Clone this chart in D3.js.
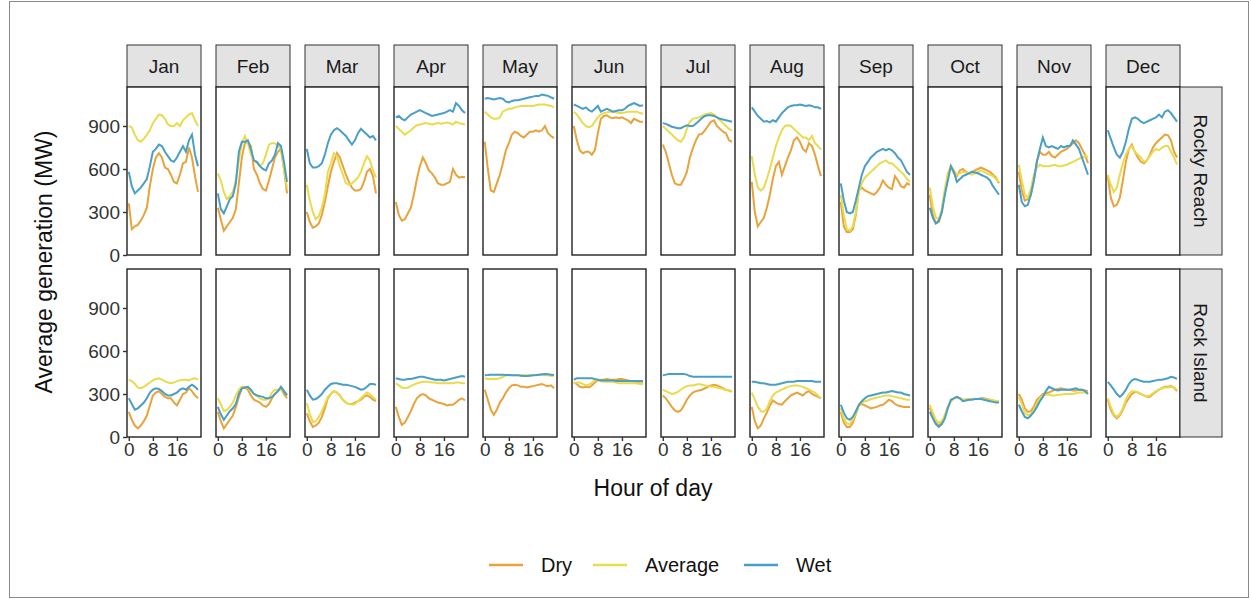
<!DOCTYPE html>
<html>
<head>
<meta charset="utf-8">
<script src="https://cdn.jsdelivr.net/npm/d3@7"></script>
<style>
  body { margin: 0; background: #fff; font-family: Arial, "Liberation Sans", sans-serif; }
</style>
</head>
<body>
<svg id="chart" width="1251" height="599"></svg>
<script>
// data
const months = ["Jan","Feb","Mar","Apr","May","Jun","Jul","Aug","Sep","Oct","Nov","Dec"];
const plants = ["Rocky Reach", "Rock Island"];
const scenarios = ["Dry", "Average", "Wet"];
const hours = d3.range(24);
const yTicks = [0, 300, 600, 900];
const xTicks = [0, 8, 16];

// Rocky Reach, one array of 24 hourly values per month
const rockyReachDry = [
  [360,180,200,210,240,280,330,480,600,680,710,680,610,600,560,510,500,560,640,650,750,680,550,440],
  [330,250,170,200,230,260,320,500,680,780,790,760,600,560,500,460,450,520,600,680,720,740,600,430],
  [300,230,190,200,220,280,370,480,580,650,710,680,620,560,510,470,450,450,460,510,580,600,550,430],
  [370,280,240,250,290,330,420,530,620,680,640,590,570,540,500,490,490,500,510,600,560,540,545,545],
  [790,600,450,440,500,560,640,730,780,840,860,850,830,820,840,860,860,870,860,870,900,850,830,815],
  [900,800,730,710,720,720,700,730,850,950,970,975,960,955,960,955,960,950,940,920,950,940,930,930],
  [770,720,640,560,500,490,490,530,580,680,745,800,840,845,870,900,930,940,900,880,860,850,800,790],
  [510,300,200,230,260,330,420,530,620,650,560,620,680,730,800,820,790,740,720,780,760,700,620,550],
  [370,200,160,160,180,280,450,470,450,440,430,420,440,470,520,490,470,460,550,520,480,470,500,490],
  [420,280,220,230,300,440,560,620,570,550,590,600,580,570,580,590,600,610,600,590,580,560,540,500],
  [580,450,380,390,420,520,650,720,700,700,720,690,680,700,720,730,740,760,780,800,780,740,700,640],
  [550,400,340,350,400,520,650,740,770,720,680,650,640,660,700,750,780,800,820,840,835,800,720,680]
];
const rockyReachAverage = [
  [900,890,840,800,790,810,840,870,920,950,980,975,950,910,900,900,920,900,940,960,980,990,940,900],
  [570,520,440,390,410,440,520,660,780,830,780,700,660,640,620,640,700,770,780,780,760,740,600,470],
  [490,380,300,250,270,330,420,580,640,710,690,620,560,500,490,500,520,540,580,640,690,660,590,540],
  [900,880,860,840,855,870,890,905,910,915,920,915,910,915,920,915,920,925,920,910,930,920,915,910],
  [1000,980,960,950,950,960,1000,1010,1020,1020,1030,1035,1040,1040,1040,1040,1040,1045,1050,1050,1050,1045,1040,1030],
  [1000,980,950,920,900,890,900,930,960,980,990,995,1000,1000,995,990,990,995,1000,1000,1000,1000,990,985],
  [900,880,860,840,820,800,790,820,880,930,950,955,960,970,980,985,990,980,960,940,920,900,880,870],
  [690,560,470,450,470,530,600,680,760,820,870,900,905,900,880,860,840,820,820,800,830,780,760,735],
  [420,280,180,170,200,300,440,500,540,560,580,600,620,640,650,660,640,640,620,600,580,560,530,510],
  [470,340,260,250,320,460,570,620,590,560,570,580,575,570,560,570,580,590,580,570,560,550,530,510],
  [630,520,420,400,460,560,610,630,620,620,620,625,630,620,620,625,630,640,650,660,670,680,690,685],
  [560,490,440,470,560,640,700,740,760,720,700,680,650,660,690,720,740,730,750,760,760,720,680,630]
];
const rockyReachWet = [
  [580,480,430,450,470,500,530,620,720,740,770,760,720,690,660,650,680,720,760,720,800,840,700,620],
  [430,320,290,340,390,410,500,720,790,790,800,740,660,650,620,600,590,640,660,700,780,760,650,510],
  [740,640,610,610,620,640,700,780,840,870,885,870,850,830,800,770,800,850,880,860,840,820,830,800],
  [960,970,950,940,960,980,990,1000,1010,1000,990,980,970,975,980,985,990,1000,1010,1000,1060,1040,1010,990],
  [1090,1095,1090,1085,1090,1095,1090,1070,1065,1075,1080,1080,1085,1090,1095,1100,1105,1110,1110,1120,1115,1110,1100,1090],
  [1050,1040,1030,1020,1030,1010,1000,1020,1040,1000,1010,1020,1010,1000,1005,1010,1010,1020,1040,1050,1060,1050,1040,1045],
  [920,915,905,895,890,885,885,895,905,900,900,915,935,955,970,975,975,970,960,950,945,940,935,930],
  [1030,1000,970,950,930,935,925,940,930,960,990,1010,1030,1040,1045,1045,1050,1045,1040,1045,1040,1030,1030,1020],
  [500,380,300,290,300,380,470,560,620,650,680,700,720,730,740,730,740,730,710,680,660,620,580,560],
  [330,260,220,240,300,420,520,620,580,510,530,550,560,570,580,575,570,560,550,540,520,480,450,420],
  [490,370,340,350,420,520,650,740,820,760,750,760,750,740,760,750,760,760,800,770,740,680,620,560],
  [870,810,750,700,680,720,790,880,950,960,950,930,920,930,940,950,960,980,960,1000,1010,990,960,930]
];

// Rock Island
const rockIslandDry = [
  [175,120,80,60,80,110,150,220,290,310,320,300,280,270,270,240,220,260,300,310,340,320,290,270],
  [175,110,60,90,120,150,210,280,340,345,330,290,260,250,240,220,210,230,270,300,320,340,300,270],
  [165,110,70,80,100,140,200,270,300,320,310,290,260,240,230,230,240,250,260,280,290,280,260,250],
  [210,140,85,100,140,180,230,270,290,300,290,270,260,250,240,235,230,220,225,225,240,260,270,255],
  [330,260,190,155,190,240,270,310,340,360,365,360,350,350,345,350,355,360,365,370,360,355,360,340],
  [380,370,350,345,350,345,360,380,395,400,400,405,400,400,400,405,405,400,395,390,385,380,375,375],
  [290,270,240,210,185,175,185,220,260,290,310,320,325,330,340,350,360,365,360,350,340,330,325,315],
  [210,110,60,80,130,170,220,255,240,230,225,250,270,290,300,310,300,290,310,320,300,290,280,270],
  [175,100,70,70,100,160,220,230,220,210,200,205,210,220,225,240,260,250,230,220,215,210,210,210],
  [205,150,100,80,100,150,210,250,270,280,270,260,260,265,265,265,265,270,270,265,260,255,250,245],
  [300,260,200,175,180,210,260,280,300,305,310,320,330,335,340,335,330,330,325,325,330,330,325,320],
  [260,190,150,130,150,190,240,270,300,315,310,300,290,280,280,300,315,330,340,350,350,355,345,320]
];
const rockIslandAverage = [
  [400,390,370,345,340,350,365,380,395,405,410,400,390,380,375,380,390,395,400,400,395,405,410,400],
  [270,230,180,190,210,240,290,330,350,350,345,320,300,290,270,260,260,270,310,330,330,330,320,300],
  [235,160,105,110,140,180,230,280,300,320,310,290,260,240,230,225,230,250,270,290,310,300,280,260],
  [375,360,345,340,345,355,365,375,380,385,385,385,380,380,375,375,375,375,375,375,380,380,375,375],
  [410,405,405,405,405,410,420,430,430,430,430,430,430,430,430,430,430,430,432,432,430,430,428,425],
  [375,380,380,370,360,365,380,395,395,390,385,385,385,385,380,375,375,375,375,375,375,375,370,370],
  [330,320,310,300,305,315,330,345,355,360,360,365,370,365,360,355,350,350,345,340,335,330,325,320],
  [310,260,210,180,175,200,250,290,310,320,330,340,350,355,360,360,355,350,340,330,320,310,290,270],
  [200,130,95,90,120,170,220,240,250,255,265,270,275,280,285,290,290,285,280,275,270,265,260,260],
  [225,170,120,100,110,150,210,250,270,275,270,260,260,265,265,265,265,265,265,260,260,255,250,250],
  [280,230,170,150,160,190,230,270,290,295,295,290,290,295,295,300,300,300,300,305,310,310,310,310],
  [270,210,160,140,160,200,260,300,320,320,310,300,290,285,290,305,320,330,340,345,345,350,345,330]
];
const rockIslandWet = [
  [270,230,190,200,220,240,270,310,330,340,335,320,300,290,290,300,310,330,340,330,350,365,350,330],
  [210,160,120,150,180,200,230,300,340,345,350,330,300,290,285,280,270,270,280,300,320,350,320,290],
  [330,290,260,265,280,300,330,350,370,375,375,370,365,365,360,355,350,340,330,335,350,370,370,365],
  [410,405,400,400,405,405,410,415,420,420,415,410,405,400,400,400,395,400,405,410,415,420,425,420],
  [430,432,435,435,435,435,435,433,432,430,430,430,428,425,425,428,430,432,435,438,440,438,435,432],
  [400,410,410,410,410,410,410,405,400,395,395,395,395,395,390,390,390,390,390,390,390,390,390,390],
  [430,435,440,440,440,440,440,440,435,425,420,420,420,420,420,420,420,420,420,420,420,420,420,420],
  [385,385,380,375,375,370,365,365,365,370,375,380,385,385,385,390,390,390,390,390,390,385,385,385],
  [225,170,130,120,140,180,225,250,270,285,290,295,300,305,310,310,315,320,315,310,310,300,295,290],
  [175,130,90,70,90,130,200,260,270,280,270,250,255,260,260,265,265,265,260,255,250,245,240,240],
  [225,180,140,130,150,175,210,250,280,320,350,340,330,325,330,330,330,330,335,340,330,330,320,300],
  [385,360,330,300,280,300,330,370,395,405,400,390,385,385,385,390,395,400,400,405,410,420,415,405]
];

const seriesByPlant = [
  [rockyReachDry, rockyReachAverage, rockyReachWet],
  [rockIslandDry, rockIslandAverage, rockIslandWet]
];
const colors = ["#E8A33B", "#EADB4C", "#4A9FC6"];

//layout
const panelLeft = 127, panelStep = 89, panelW = 74;
const stripTop = 45, stripH = 42;
const rowTops = [87, 269], panelH = 168;
const font = "Arial, 'Liberation Sans', sans-serif";

const svg = d3.select("#chart");

svg.append("rect")
  .attr("x", 9.5).attr("y", 1.5)
  .attr("width", 1239).attr("height", 596)
  .attr("fill", "none").attr("stroke", "#8a8a8a");

const xScale = d3.scaleLinear().domain([-0.6, 24]).range([0, panelW]);
const yScale = d3.scaleLinear().domain([0, 1172]).range([panelH, 0]);

const line = d3.line()
  .x((d, i) => xScale(hours[i]))
  .y(d => yScale(d));

months.forEach((m, mi) => {
  const px = panelLeft + mi * panelStep;

  // month strip
  const strip = svg.append("g").attr("transform", "translate(" + px + "," + stripTop + ")");
  strip.append("rect")
    .attr("width", panelW).attr("height", stripH)
    .attr("fill", "#e3e3e3").attr("stroke", "#333").attr("stroke-width", 1);
  strip.append("text")
    .attr("x", panelW / 2).attr("y", stripH / 2 + 7)
    .attr("text-anchor", "middle")
    .attr("font-size", 19).attr("fill", "#1a1a1a")
    .text(m);

  plants.forEach((p, pi) => {
    const g = svg.append("g").attr("transform", "translate(" + px + "," + rowTops[pi] + ")");
    g.append("rect")
      .attr("width", panelW).attr("height", panelH)
      .attr("fill", "#fff");

    seriesByPlant[pi].forEach((s, si) => {
      g.append("path")
        .datum(s[mi])
        .attr("d", line)
        .attr("fill", "none")
        .attr("stroke", colors[si])
        .attr("stroke-width", 2);
    });

    g.append("rect")
      .attr("width", panelW).attr("height", panelH)
      .attr("fill", "none").attr("stroke", "#222").attr("stroke-width", 1.4);

    if (mi === 0) {
      const ya = g.append("g").call(d3.axisLeft(yScale).tickValues(yTicks).tickSize(4).tickPadding(3));
      ya.select(".domain").remove();
      ya.selectAll("line").attr("stroke", "#333").attr("stroke-width", 1.4);
      ya.selectAll("text").attr("font-size", 19).attr("fill", "#333").attr("font-family", font);
    }
    if (pi === 1) {
      const xa = g.append("g").attr("transform", "translate(0," + panelH + ")")
        .call(d3.axisBottom(xScale).tickValues(xTicks).tickSize(4).tickPadding(2));
      xa.select(".domain").remove();
      xa.selectAll("line").attr("stroke", "#333").attr("stroke-width", 1.4);
      xa.selectAll("text").attr("font-size", 19).attr("fill", "#333").attr("font-family", font);
    }
  });
});

// plant strips on the right
const stripX = panelLeft + 11 * panelStep + panelW;
plants.forEach((p, pi) => {
  const g = svg.append("g").attr("transform", "translate(" + stripX + "," + rowTops[pi] + ")");
  g.append("rect")
    .attr("width", 42).attr("height", panelH)
    .attr("fill", "#e3e3e3").attr("stroke", "#333");
  g.append("text")
    .attr("transform", "translate(14," + panelH / 2 + ") rotate(90)")
    .attr("text-anchor", "middle")
    .attr("font-size", 19).attr("fill", "#1a1a1a")
    .text(p);
});

// axis titles
svg.append("text")
  .attr("x", 653).attr("y", 496)
  .attr("text-anchor", "middle").attr("font-size", 23).attr("fill", "#111")
  .text("Hour of day");
svg.append("text")
  .attr("transform", "translate(52,262) rotate(-90)")
  .attr("text-anchor", "middle").attr("font-size", 23).attr("fill", "#111")
  .text("Average generation (MW)");

// legend
const legendX = [489, 593, 744];
scenarios.forEach((s, i) => {
  const g = svg.append("g").attr("transform", "translate(" + legendX[i] + ",565)");
  g.append("line").attr("x1", 0).attr("x2", 34).attr("stroke", colors[i]).attr("stroke-width", 2.5);
  g.append("text").attr("x", 52).attr("y", 7).attr("font-size", 20).attr("fill", "#111").text(s);
});
</script>
</body>
</html>
